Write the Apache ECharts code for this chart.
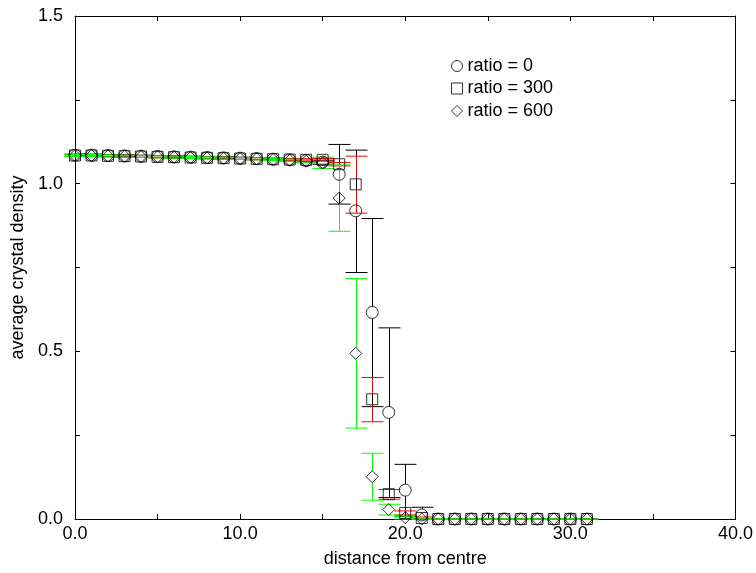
<!DOCTYPE html>
<html>
<head>
<meta charset="utf-8">
<script src="https://cdn.jsdelivr.net/npm/echarts@6/dist/echarts.min.js"></script>
<style>
html, body { margin: 0; background: #fff; }
#chart-container { width: 756px; height: 573px; }
</style>
</head>
<body>
<div id="chart-container"></div>
<script>
var distance = [0, 1, 2, 3, 4, 5, 6, 7, 8, 9, 10, 11, 12, 13, 14, 15,
  16, 17, 18, 19, 20, 21, 22, 23, 24, 25, 26, 27, 28, 29, 30, 31];

// ratio = 0 (circles, black bars)
var ratio0 = [1.085, 1.085, 1.084, 1.083, 1.082, 1.081, 1.080, 1.079, 1.078, 1.077, 1.076, 1.075, 1.073, 1.071, 1.069, 1.064,
  1.028, 0.919, 0.616, 0.318, 0.086, 0.012, 0, 0, 0, 0, 0, 0, 0, 0, 0, 0];
var ratio0Low = [1.082, 1.082, 1.081, 1.080, 1.079, 1.078, 1.077, 1.076, 1.075, 1.074, 1.073, 1.072, 1.070, 1.068, 1.065, 1.058,
  0.939, 0.735, 0.335, 0.064, 0.008, 0, 0, 0, 0, 0, 0, 0, 0, 0, 0, 0];
var ratio0High = [1.088, 1.088, 1.087, 1.086, 1.085, 1.084, 1.083, 1.082, 1.081, 1.080, 1.079, 1.078, 1.076, 1.074, 1.073, 1.070,
  1.117, 1.100, 0.896, 0.570, 0.163, 0.035, 0, 0, 0, 0, 0, 0, 0, 0, 0, 0];

// ratio = 300 (squares, red bars)
var ratio300 = [1.084, 1.084, 1.083, 1.082, 1.081, 1.080, 1.079, 1.078, 1.077, 1.076, 1.075, 1.074, 1.073, 1.072, 1.071, 1.071,
  1.058, 0.998, 0.357, 0.074, 0.018, 0.003, 0, 0, 0, 0, 0, 0, 0, 0, 0, 0];
var ratio300Low = [1.081, 1.081, 1.080, 1.079, 1.078, 1.077, 1.076, 1.075, 1.074, 1.073, 1.072, 1.071, 1.070, 1.069, 1.068, 1.067,
  1.053, 0.912, 0.290, 0.059, 0.012, 0.001, 0, 0, 0, 0, 0, 0, 0, 0, 0, 0];
var ratio300High = [1.087, 1.087, 1.086, 1.085, 1.084, 1.083, 1.082, 1.081, 1.080, 1.079, 1.078, 1.077, 1.076, 1.075, 1.074, 1.075,
  1.063, 1.082, 0.422, 0.088, 0.024, 0.006, 0, 0, 0, 0, 0, 0, 0, 0, 0, 0];

// ratio = 600 (diamonds, green bars)
var ratio600 = [1.084, 1.084, 1.083, 1.082, 1.081, 1.080, 1.079, 1.078, 1.077, 1.076, 1.075, 1.074, 1.072, 1.070, 1.067, 1.062,
  0.957, 0.494, 0.126, 0.028, 0.004, 0, 0, 0, 0, 0, 0, 0, 0, 0, 0, 0];
var ratio600Low = [1.081, 1.081, 1.080, 1.079, 1.078, 1.077, 1.076, 1.075, 1.074, 1.073, 1.072, 1.071, 1.069, 1.067, 1.062, 1.045,
  0.858, 0.271, 0.056, 0.012, 0, 0, 0, 0, 0, 0, 0, 0, 0, 0, 0, 0];
var ratio600High = [1.087, 1.087, 1.086, 1.085, 1.084, 1.083, 1.082, 1.081, 1.080, 1.079, 1.078, 1.077, 1.075, 1.073, 1.072, 1.079,
  1.056, 0.717, 0.196, 0.044, 0.008, 0, 0, 0, 0, 0, 0, 0, 0, 0, 0, 0];

var dom = document.getElementById("chart-container");
var myChart = echarts.init(dom, null, { renderer: "canvas" });

var font = "Liberation Sans";

function points(values) {
  return distance.map(function (d, i) { return [d, values[i]]; });
}

// vertical bar with caps, leaving a gap where the marker sits
function errorBars(values, low, high, color) {
  return {
    type: "custom",
    silent: true,
    z: 2,
    data: distance.map(function (d, i) { return [d, low[i], high[i], values[i]]; }),
    renderItem: function (params, api) {
      var lo = api.coord([api.value(0), api.value(1)]);
      var hi = api.coord([api.value(0), api.value(2)]);
      var mid = api.coord([api.value(0), api.value(3)]);
      var x = Math.round(lo[0]) + 0.5;
      var r = 6, w = 11;
      var style = { stroke: color, lineWidth: 1 };
      var kids = [
        { type: "line", shape: { x1: x - w, y1: hi[1], x2: x + w, y2: hi[1] }, style: style },
        { type: "line", shape: { x1: x - w, y1: lo[1], x2: x + w, y2: lo[1] }, style: style }
      ];
      if (hi[1] < mid[1] - r) {
        kids.push({ type: "line", shape: { x1: x, y1: hi[1], x2: x, y2: mid[1] - r }, style: style });
      }
      if (lo[1] > mid[1] + r) {
        kids.push({ type: "line", shape: { x1: x, y1: mid[1] + r, x2: x, y2: lo[1] }, style: style });
      }
      return { type: "group", children: kids };
    }
  };
}

function markers(name, values, symbol, size) {
  return {
    name: name,
    type: "scatter",
    silent: true,
    z: 3,
    symbol: symbol,
    symbolSize: size,
    itemStyle: { color: "rgba(0,0,0,0)", borderColor: "#000", borderWidth: 1 },
    data: points(values)
  };
}

var hollow = { color: "rgba(0,0,0,0)", borderColor: "#000", borderWidth: 1 };
var frameLine = { onZero: false, lineStyle: { color: "#000" } };
var inTick = { show: true, inside: true, length: 5, lineStyle: { color: "#000" } };

var option = {
  backgroundColor: "#fff",
  animation: false,
  grid: { left: 75, right: 19, top: 16, bottom: 53 },
  legend: {
    orient: "vertical",
    left: 446,
    top: 52,
    itemWidth: 11,
    itemHeight: 11,
    itemGap: 4.5,
    selectedMode: false,
    textStyle: { fontFamily: font, fontSize: 18, color: "#000", lineHeight: 18 },
    data: [
      { name: "ratio = 0", icon: "circle", itemStyle: hollow },
      { name: "ratio = 300", icon: "rect", itemStyle: hollow },
      { name: "ratio = 600", icon: "diamond", itemStyle: hollow }
    ]
  },
  xAxis: [
    {
      type: "value",
      min: 0,
      max: 40,
      interval: 5,
      name: "distance from centre",
      nameLocation: "middle",
      nameGap: 31,
      nameTextStyle: { fontFamily: font, fontSize: 18, color: "#000" },
      axisLine: frameLine,
      axisTick: inTick,
      axisLabel: {
        fontFamily: font, fontSize: 18, color: "#000", margin: 6,
        formatter: function (v) { return v % 10 === 0 ? v.toFixed(1) : ""; }
      },
      splitLine: { show: false }
    },
    {
      type: "value",
      position: "top",
      min: 0,
      max: 40,
      interval: 5,
      axisLine: frameLine,
      axisTick: inTick,
      axisLabel: { show: false },
      splitLine: { show: false }
    }
  ],
  yAxis: [
    {
      type: "value",
      min: 0,
      max: 1.5,
      interval: 0.25,
      name: "average crystal density",
      nameLocation: "middle",
      nameGap: 45,
      nameTextStyle: { fontFamily: font, fontSize: 18, color: "#000" },
      axisLine: { show: true, onZero: false, lineStyle: { color: "#000" } },
      axisTick: inTick,
      axisLabel: {
        fontFamily: font, fontSize: 18, color: "#000", margin: 12,
        formatter: function (v) { return Math.round(v * 100) % 50 === 0 ? v.toFixed(1) : ""; }
      },
      splitLine: { show: false }
    },
    {
      type: "value",
      position: "right",
      min: 0,
      max: 1.5,
      interval: 0.25,
      axisLine: { show: true, onZero: false, lineStyle: { color: "#000" } },
      axisTick: inTick,
      axisLabel: { show: false },
      splitLine: { show: false }
    }
  ],
  series: [
    errorBars(ratio0, ratio0Low, ratio0High, "#000000"),
    errorBars(ratio300, ratio300Low, ratio300High, "#ff0000"),
    errorBars(ratio600, ratio600Low, ratio600High, "#00ff00"),
    markers("ratio = 0", ratio0, "circle", 12),
    markers("ratio = 300", ratio300, "rect", 11),
    markers("ratio = 600", ratio600, "diamond", 12)
  ]
};

if (option && typeof option === "object") {
  myChart.setOption(option);
}

window.addEventListener("resize", myChart.resize);
</script>
</body>
</html>
